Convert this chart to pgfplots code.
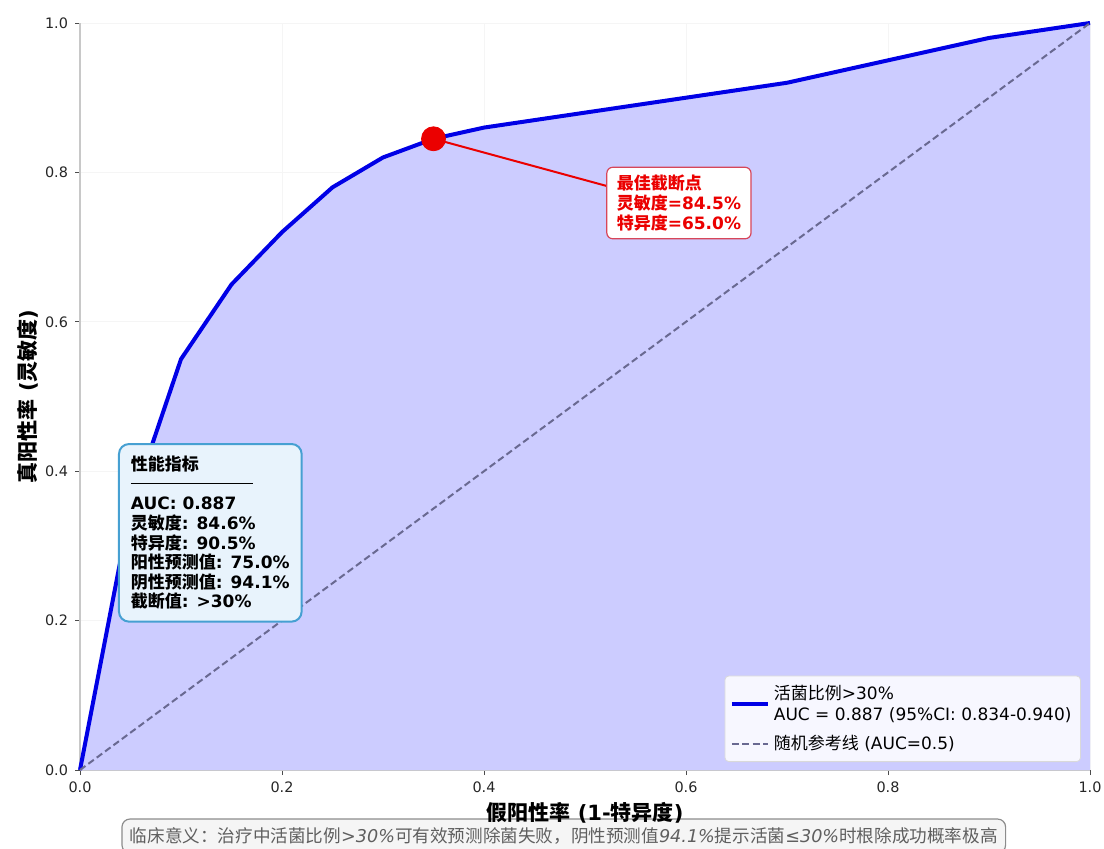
\documentclass[border=0pt]{standalone}
\usepackage{pgfplots}
\pgfplotsset{compat=1.18}
\usepackage{fontspec}
\setmainfont{DejaVu Sans}
\newfontfamily\cjk{Noto Sans CJK SC}
\newcommand{\zh}[1]{{\cjk #1}}

\definecolor{roc}{RGB}{0,0,230}
\definecolor{rocfill}{RGB}{204,204,255}
\definecolor{refline}{RGB}{105,105,145}
\definecolor{infoborder}{RGB}{70,160,210}
\definecolor{infofill}{RGB}{232,243,252}
\definecolor{cutred}{RGB}{235,0,0}
\definecolor{cutborder}{RGB}{215,70,90}
\definecolor{spine}{RGB}{200,200,200}
\definecolor{notegray}{RGB}{95,95,95}

\begin{document}
\begin{tikzpicture}
\useasboundingbox (0,0) rectangle (552pt,424pt);
\begin{axis}[
  at={(40pt,39pt)}, anchor=south west,
  scale only axis, width=505pt, height=373.5pt,
  xmin=0, xmax=1, ymin=0, ymax=1, clip=false,
  axis x line*=bottom, axis y line*=left,
  axis line style={spine, line width=0.6pt},
  xtick={0,0.2,...,1.0}, ytick={0,0.2,...,1.0},
  tick align=outside, major tick length=2.5pt,
  tick style={black!70, line width=0.4pt},
  xticklabel style={/pgf/number format/.cd, fixed, fixed zerofill, precision=1, assume math mode=true},
  yticklabel style={/pgf/number format/.cd, fixed, fixed zerofill, precision=1, assume math mode=true},
  ticklabel style={font=\fontsize{7.2}{8}\selectfont, text=black!85},
  grid=major, major grid style={black!4, line width=0.4pt},
  xlabel={\bfseries\zh{假阳性率} (1-\zh{特异度})},
  ylabel={\bfseries\zh{真阳性率} (\zh{灵敏度})},
  label style={font=\fontsize{10.5}{12}\selectfont},
  xlabel style={at={(axis description cs:0.5,-0.057)}, anchor=center},
  ylabel style={at={(axis description cs:-0.0515,0.5)}, anchor=center},
  legend image code/.code={\draw[#1] (0pt,0pt) -- (18pt,0pt);},
  legend style={
    at={(axis description cs:0.991,0.0107)}, anchor=south east,
    fill=white, fill opacity=0.85, text opacity=1, draw=black!15,
    rounded corners=2pt, font=\fontsize{8.5}{10.5}\selectfont,
    cells={align=left, anchor=west}, inner sep=2.5pt, row sep=2pt},
  legend cell align=left,
]
% area under the ROC curve
\addplot[fill=rocfill, draw=none, forget plot] coordinates {
  (0,0) (0.05,0.35) (0.10,0.55) (0.15,0.65) (0.20,0.72) (0.25,0.78)
  (0.30,0.82) (0.35,0.845) (0.40,0.86) (0.50,0.88) (0.60,0.90)
  (0.70,0.92) (0.80,0.95) (0.90,0.98) (1.00,1.00)} \closedcycle;
% ROC curve
\addplot[roc, line width=2pt, line join=round] coordinates {
  (0,0) (0.05,0.35) (0.10,0.55) (0.15,0.65) (0.20,0.72) (0.25,0.78)
  (0.30,0.82) (0.35,0.845) (0.40,0.86) (0.50,0.88) (0.60,0.90)
  (0.70,0.92) (0.80,0.95) (0.90,0.98) (1.00,1.00)};
\addlegendentry{\zh{活菌比例}>30\%\\AUC = 0.887 (95\%CI: 0.834-0.940)}
% chance diagonal
\addplot[refline, line width=1pt, dash pattern=on 3.4pt off 1.8pt] coordinates {(0,0) (1,1)};
\addlegendentry{\zh{随机参考线} (AUC=0.5)}
% optimal cut-off
\addplot[cutred, line width=1pt, forget plot] coordinates {(0.35,0.845) (0.521,0.782)};
\addplot[only marks, mark=*, mark size=6pt, mark options={fill=cutred, draw=cutred}, forget plot]
  coordinates {(0.35,0.845)};
\node[anchor=west, draw=cutborder, line width=0.6pt, fill=white, rounded corners=3pt,
  align=left, inner xsep=5pt, inner ysep=4pt, text=cutred,
  font=\fontsize{8.5}{9.8}\selectfont\bfseries] at (axis cs:0.521,0.759)
  {\zh{最佳截断点}\\\zh{灵敏度}=84.5\%\\\zh{特异度}=65.0\%};
% performance summary
\node[anchor=north west, draw=infoborder, line width=1pt, fill=infofill, rounded corners=5pt,
  align=left, inner xsep=6pt, inner ysep=6pt,
  font=\fontsize{8.5}{9.8}\selectfont\bfseries] at (axis cs:0.0376,0.4377)
  {\zh{性能指标}\\[-3.2pt]
   \rule{61pt}{0.6pt}\\[3.2pt]
   AUC: 0.887\\
   \zh{灵敏度}: 84.6\%\\
   \zh{特异度}: 90.5\%\\
   \zh{阳性预测值}: 75.0\%\\
   \zh{阴性预测值}: 94.1\%\\
   \zh{截断值}: >30\%};
% clinical note
\node[anchor=center, draw=black!45, line width=0.6pt, fill=black!4, rounded corners=4pt,
  minimum width=436pt, minimum height=17pt, inner xsep=4pt, text=notegray,
  font=\fontsize{8.8}{10}\selectfont] at (axis description cs:0.479,-0.0884)
  {\zh{临床意义：治疗中活菌比例}\textit{>30\%}\zh{可有效预测除菌失败，阴性预测值}\textit{94.1\%}\zh{提示活菌}\textit{≤30\%}\zh{时根除成功概率极高}};
\end{axis}
\end{tikzpicture}
\end{document}
